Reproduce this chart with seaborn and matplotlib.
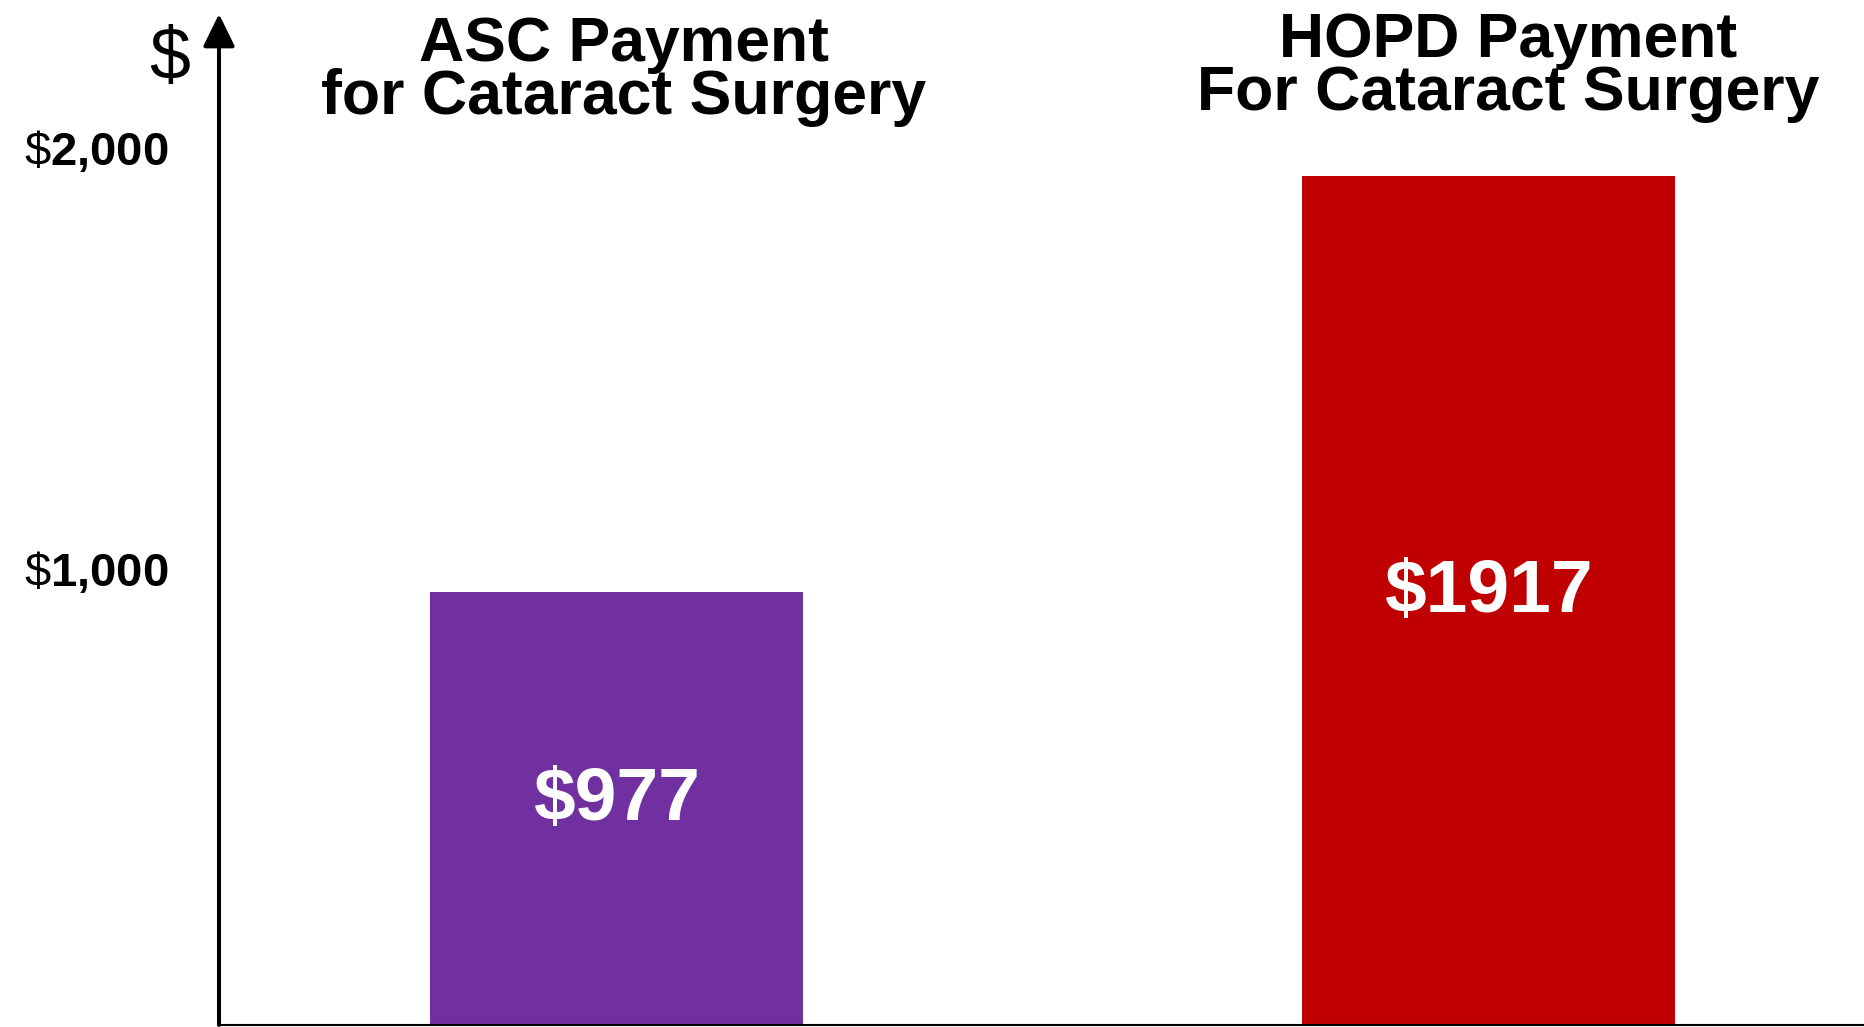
import matplotlib
matplotlib.use('Agg')
import matplotlib.pyplot as plt
import seaborn as sns
import pandas as pd
from matplotlib.transforms import ScaledTranslation


# Chart data
categories = ['ASC', 'HOPD']
payments = [977, 1917]
value_labels = ['$977', '$1917']
titles = [
    'ASC Payment\nfor Cataract Surgery',
    'HOPD Payment\nFor Cataract Surgery',
]
tick_values = [1000, 2000]
tick_labels = [r'$\mathrm{\$}\mathbf{1{,}000}$', r'$\mathrm{\$}\mathbf{2{,}000}$']
bar_colors = ['#7030A0', '#C00000']

# Style
sns.set_style('white')
plt.rcParams['font.family'] = ['Liberation Sans', 'DejaVu Sans']
plt.rcParams['text.color'] = 'black'
plt.rcParams['ytick.color'] = 'black'
plt.rcParams['mathtext.fontset'] = 'custom'
plt.rcParams['mathtext.rm'] = 'Liberation Sans'
plt.rcParams['mathtext.bf'] = 'Liberation Sans:bold'

df = pd.DataFrame({'category': categories, 'payment': payments})

W, H = 1864, 1027
fig = plt.figure(figsize=(W / 100, H / 100), dpi=100)
ax = fig.add_axes([219 / W, 2 / H, 1 - 219 / W, 1011 / H])

sns.barplot(
    data=df,
    x='category',
    y='payment',
    hue='category',
    palette=bar_colors,
    width=0.428,
    saturation=1,
    linewidth=0,
    legend=False,
    ax=ax
)

ax.set_xlim(-0.456, 1.431)
ax.set_ylim(0, 2282)

# Axes styling
for side in ['left', 'top', 'right']:
    ax.spines[side].set_visible(False)
ax.spines['bottom'].set_color('black')
ax.spines['bottom'].set_linewidth(1.5)

ax.set_xticks([])
ax.set_xlabel('')
ax.set_ylabel('')
ax.set_yticks(tick_values, tick_labels, fontsize=34, color='black')
ax.tick_params(axis='y', length=0, pad=36)

# tick labels in the original sit a little off the value grid
for lab, dy in zip(ax.get_yticklabels(), [10, -6]):
    lab.set_transform(lab.get_transform() + ScaledTranslation(0, dy / 72, fig.dpi_scale_trans))

# Y axis arrow
ax.annotate(
    '',
    xy=(0, 1),
    xytext=(0, 0),
    xycoords='axes fraction',
    textcoords='axes fraction',
    arrowprops=dict(
        arrowstyle='-|>,head_length=1.0,head_width=0.49',
        lw=2.9,
        color='black',
        mutation_scale=20,
        shrinkA=0,
        shrinkB=0
    ),
    annotation_clip=False
)

fig.text(170 / W, 1 - 59 / H, '$', fontsize=53, ha='center', va='center')

# Titles over each bar (tight line spacing like the slide)
title_x = [624, 1508]
title_top = [15, 11]
for x, top, title in zip(title_x, title_top, titles):
    fig.text(
        x / W, 1 - top / H, title,
        fontsize=45, fontweight='bold',
        ha='center', va='top', multialignment='center',
        linespacing=0.88
    )

# Value labels in bars
for i, (val, label) in enumerate(zip(payments, value_labels)):
    ax.annotate(
        label,
        xy=(i, val / 2),
        xytext=(0, 6),
        textcoords='offset points',
        ha='center',
        va='center',
        fontsize=54,
        fontweight='bold',
        color='white'
    )

fig.savefig('out.png', dpi=100)
